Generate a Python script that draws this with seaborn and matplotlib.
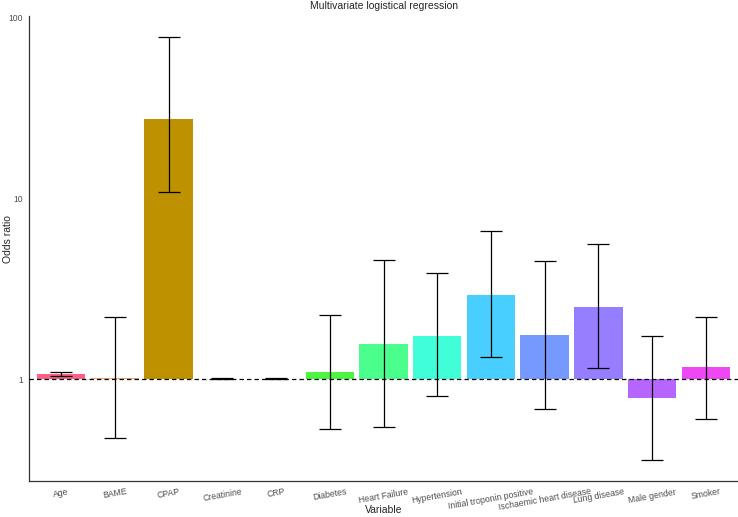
import numpy as np
import matplotlib
matplotlib.use('Agg')
import matplotlib.pyplot as plt
import seaborn as sns

# odds ratios with 95% CI
variables = ['Age', 'BAME', 'CPAP', 'Creatinine', 'CRP', 'Diabetes', 'Heart Failure',
             'Hypertension', 'Initial troponin positive', 'Ischaemic heart disease',
             'Lung disease', 'Male gender', 'Smoker']
odds = [1.07, 1.01, 27.3, 1.004, 1.004, 1.10, 1.56, 1.73, 2.91, 1.75, 2.51, 0.79, 1.16]
ci_low = [1.035, 0.47, 10.8, 0.999, 0.999, 0.53, 0.54, 0.805, 1.33, 0.68, 1.155, 0.357, 0.60]
ci_high = [1.10, 2.2, 77.8, 1.009, 1.009, 2.26, 4.53, 3.84, 6.59, 4.51, 5.62, 1.73, 2.21]
colors = ['#FF5E86', '#F7A870', '#BE9100', '#A3A500', '#5DBA00', '#4CF542', '#4BFF8C',
          '#40FFD8', '#48CFFF', '#7699FF', '#977DFF', '#B666FF', '#EE48F5']
y_ticks = [1, 10, 100]

sns.set_style('white')
plt.rcParams['font.family'] = ['Liberation Sans', 'DejaVu Sans']

# bars start at OR = 1, so draw them on log10 values
log_or = np.log10(odds)
log_lo = np.log10(ci_low)
log_hi = np.log10(ci_high)

fig = plt.figure(figsize=(7.38, 5.17), dpi=100)
ax = fig.add_axes([0.0393, 0.0696, 0.9607, 0.8994])

sns.barplot(x=variables, y=log_or, hue=variables, palette=dict(zip(variables, colors)),
            saturation=1, width=0.9, legend=False, linewidth=0, ax=ax)
ax.errorbar(np.arange(len(variables)), log_or, yerr=[log_or - log_lo, log_hi - log_or],
            fmt='none', ecolor='black', elinewidth=0.9, capsize=7.6, capthick=0.9, zorder=4)
ax.axhline(0, color='black', lw=0.9, ls=(0, (3.5, 2.5)), zorder=5)

ax.set_xlim(-0.6, len(variables) - 0.4)
ax.set_ylim(-0.564, 2.008)
ax.set_yticks(np.log10(y_ticks))
ax.set_yticklabels([str(t) for t in y_ticks])
ax.tick_params(axis='both', length=2.5, width=0.6, color='#333333', labelsize=6.2, labelcolor='#4D4D4D', pad=2)
plt.setp(ax.get_xticklabels(), rotation=10, ha='center')
sns.despine(ax=ax)
for side in ['left', 'bottom']:
    ax.spines[side].set_color('#333333')
    ax.spines[side].set_linewidth(0.9)

ax.set_xlabel('Variable', fontsize=7.5)
ax.set_ylabel('Odds ratio', fontsize=7.5)
ax.xaxis.set_label_coords(0.5, -0.062)
ax.yaxis.set_label_coords(-0.029, 0.52)
ax.xaxis.label.set_va('center')
ax.yaxis.label.set_va('center')
ax.set_title('Multivariate logistical regression', fontsize=7.5, pad=5)

plt.savefig('out.png', dpi=100)
